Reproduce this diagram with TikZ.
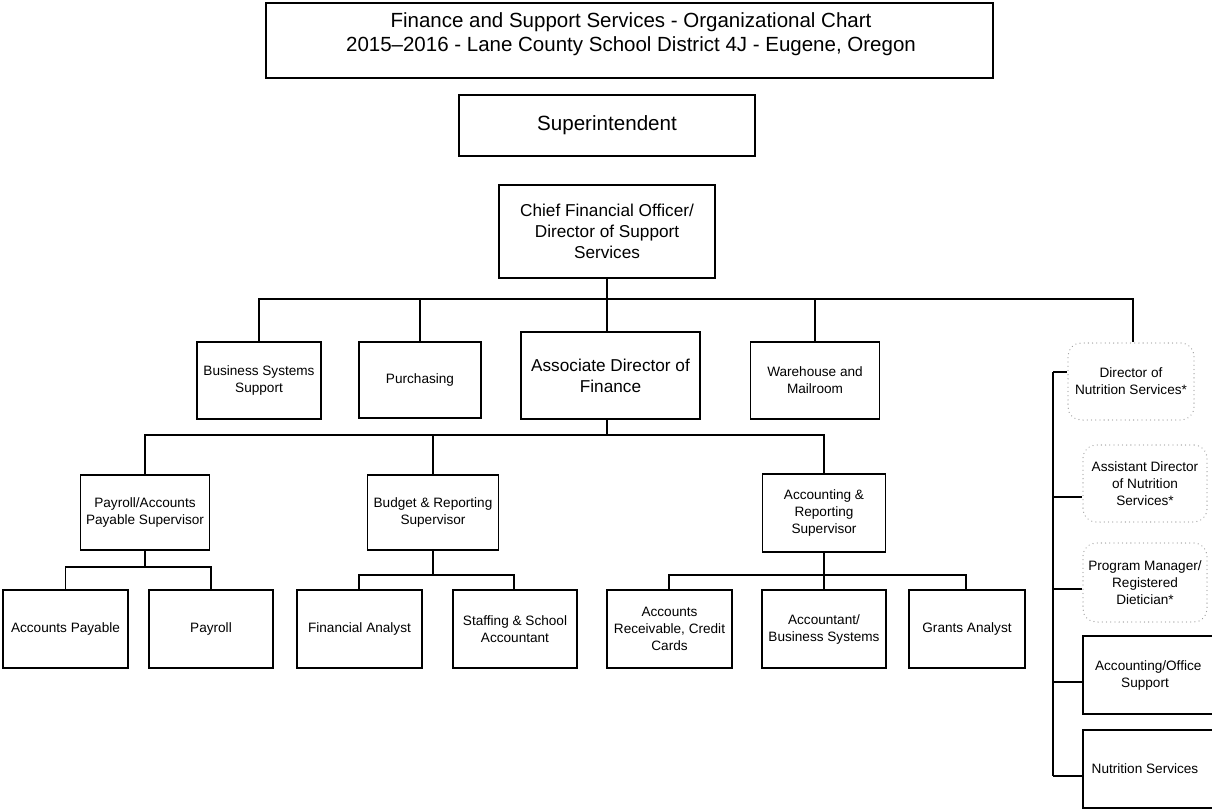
\documentclass[tikz,border=0pt]{standalone}
\usepackage{fontspec}
\setmainfont{Liberation Sans}
\begin{document}
\begin{tikzpicture}[x=1pt,y=-1pt,
  every node/.style={inner sep=0pt, align=center, text=black},
  box/.style={draw=black, line width=1.5pt, fill=white},
  dotbox/.style={draw=gray!75, line width=1.3pt, rounded corners=13pt,
    dash pattern=on 0.01pt off 4.2pt, line cap=round},
  small/.style={font=\fontsize{13.6}{17}\selectfont},
  mid/.style={font=\fontsize{17.2}{20.8}\selectfont},
  big/.style={font=\fontsize{20.6}{24}\selectfont},
  ttl/.style={font=\fontsize{20.5}{24.5}\selectfont},
  conn/.style={draw=black, line width=1.5pt}]
\useasboundingbox (0,0) rectangle (1212,809);
\clip (0,0) rectangle (1212,809);

% title block
\node[box, minimum width=727pt, minimum height=75pt] (title) at (629.5,40.5) {};
\node[ttl] (titletext) at (631,34) {Finance and Support Services - Organizational Chart\\2015--2016 - Lane County School District 4J - Eugene, Oregon};

% top of the hierarchy
\node[box, big, minimum width=296pt, minimum height=61pt] (sup) at (607,125.5) {Superintendent};
\node[box, mid, minimum width=216pt, minimum height=93pt] (cfo) at (607,231.5) {Chief Financial Officer/\\Director of Support\\Services};

% second level
\node[box, small, minimum width=124pt, minimum height=77pt] (bss) at (259,380.5) {Business Systems\\Support};
\node[box, small, minimum width=122pt, minimum height=76pt] (pur) at (420,380) {Purchasing};
\node[box, mid, minimum width=179pt, minimum height=87pt] (adf) at (610.5,375.5) {Associate Director of\\Finance};
\node[box, small, minimum width=129pt, minimum height=77pt] (wam) at (815,380.5) {Warehouse and\\Mailroom};
\node[dotbox, small, minimum width=126pt, minimum height=77pt] (dns) at (1131,381.5) {Director of\\Nutrition Services*};

% supervisors
\node[box, small, minimum width=129pt, minimum height=75pt] (pay) at (145,512.5) {Payroll/Accounts\\Payable Supervisor};
\node[box, small, minimum width=131pt, minimum height=75pt] (bud) at (433,512.5) {Budget \& Reporting\\Supervisor};
\node[box, small, minimum width=123pt, minimum height=78pt] (acc) at (824,513) {Accounting \&\\Reporting\\Supervisor};

% staff level
\node[box, small, minimum width=125pt, minimum height=78pt] (ap) at (65.5,629) {Accounts Payable};
\node[box, small, minimum width=124pt, minimum height=78pt] (pr) at (211,629) {Payroll};
\node[box, small, minimum width=125pt, minimum height=78pt] (fa) at (359.5,629) {Financial Analyst};
\node[box, small, minimum width=124pt, minimum height=78pt] (ssa) at (515,629) {Staffing \& School\\Accountant};
\node[box, small, minimum width=125pt, minimum height=78pt] (ar) at (669.5,629) {Accounts\\Receivable, Credit\\Cards};
\node[box, small, minimum width=124pt, minimum height=78pt] (abs) at (824,629) {Accountant/\\Business Systems};
\node[box, small, minimum width=116pt, minimum height=78pt] (ga) at (967,629) {Grants Analyst};

% nutrition column
\node[dotbox, small, minimum width=124pt, minimum height=77pt] (ads) at (1145,483.5) {Assistant Director\\of Nutrition\\Services*};
\node[dotbox, small, minimum width=124pt, minimum height=79pt] (pm) at (1145,582.5) {Program Manager/\\Registered\\Dietician*};
\node[box, small, minimum width=131pt, minimum height=78pt] (aos) at (1148.5,675) {\hspace*{-0.5pt}Accounting/Office\\Support\hspace*{7pt}};
\node[box, small, minimum width=131pt, minimum height=78pt] (nsv) at (1148.5,769) {Nutrition Services\hspace*{7pt}};

% connectors: CFO to second level
\coordinate (busA) at (607,299);
\draw[conn] (cfo.south) -- (busA);
\draw[conn] (bss.north) -- (bss.north |- busA) -- (busA);
\draw[conn] (busA) -- (1133,299) -- (1133,342);
\draw[conn] (pur.north) -- (pur.north |- busA);
\draw[conn] (busA) -- (607,332);
\draw[conn] (wam.north) -- (wam.north |- busA);

% connectors: associate director to supervisors
\coordinate (busB) at (607,435);
\draw[conn] (607,419) -- (busB);
\draw[conn] (pay.north) -- (pay.north |- busB) -- (acc.north |- busB) -- (acc.north);
\draw[conn] (bud.north) -- (bud.north |- busB);

% connectors: supervisors to staff
\coordinate (busC) at (145,567);
\draw[conn] (pay.south) -- (busC);
\draw[conn] (ap.north) -- (ap.north |- busC) -- (pr.north |- busC) -- (pr.north);
\coordinate (busD) at (433,575);
\draw[conn] (bud.south) -- (busD);
\draw[conn] (359,590) -- (359,575) -- (514,575) -- (514,590);
\coordinate (busE) at (824,575);
\draw[conn] (acc.south) -- (busE);
\draw[conn] (669,590) -- (669,575) -- (966,575) -- (966,590);
\draw[conn] (busE) -- (abs.north);

% nutrition column spine and ticks
\coordinate (t1) at (1053,372);
\coordinate (t2) at (1053,497);
\coordinate (t3) at (1053,589);
\coordinate (t4) at (1053,682);
\coordinate (t5) at (1053,776);
\draw[conn] (t1) -- (t5);
\draw[conn] (t1) -- (t1 -| dns.west);
\draw[conn] (t2) -- (t2 -| ads.west);
\draw[conn] (t3) -- (t3 -| pm.west);
\draw[conn] (t4) -- (t4 -| aos.west);
\draw[conn] (t5) -- (t5 -| nsv.west);
\end{tikzpicture}
\end{document}
